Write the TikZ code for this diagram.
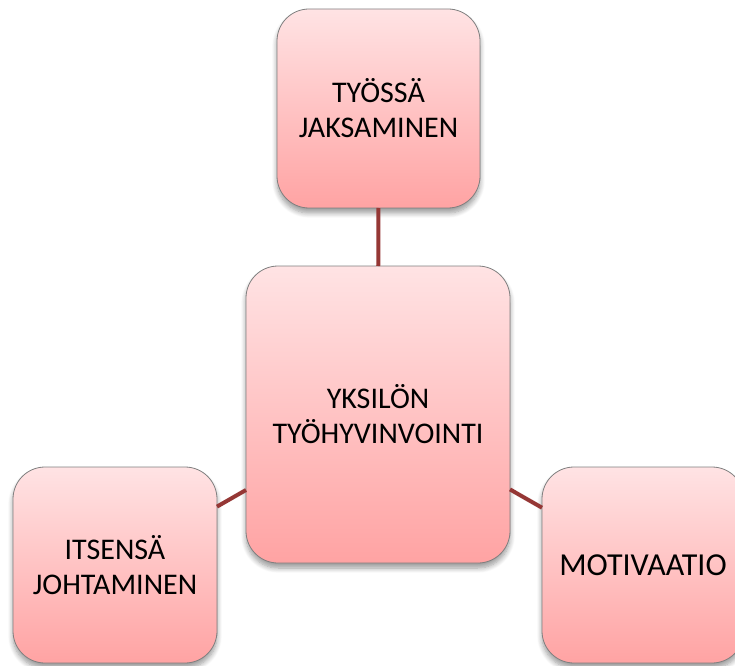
\documentclass[tikz,border=0pt]{standalone}
\usepackage{fontspec}
\setmainfont{Carlito}
\usetikzlibrary{shadows.blur}
\definecolor{linkred}{HTML}{953735}
\definecolor{boxtop}{HTML}{FFE3E4}
\definecolor{boxbot}{HTML}{FFA3A3}
\definecolor{boxedge}{HTML}{7F7F7F}
\tikzset{
  topic/.style={draw=boxedge, line width=0.8pt, rounded corners=32pt,
    top color=boxtop, bottom color=boxbot,
    blur shadow={shadow xshift=0pt, shadow yshift=-5pt, shadow blur radius=5pt,
      shadow blur steps=8, shadow opacity=40},
    inner sep=0pt, outer sep=0pt, align=center, text=black,
    font=\fontsize{30}{35}\selectfont},
  link/.style={draw=linkred, line width=4pt}
}
\begin{document}
\begin{tikzpicture}[x=1pt, y=1pt]
  \useasboundingbox (0,0) rectangle (735,665);
  \clip (0,0) rectangle (735,665);
  % the four topic boxes
  \node[topic, minimum width=203pt, minimum height=199pt] (work) at (378.5,556.5) {TYÖSSÄ\\JAKSAMINEN};
  \node[topic, minimum width=264pt, minimum height=297pt] (core) at (378,250.5) {YKSILÖN\\TYÖHYVINVOINTI};
  \node[topic, minimum width=204pt, minimum height=196pt] (lead) at (115,100) {ITSENSÄ\\JOHTAMINEN};
  \node[topic, minimum width=202pt, minimum height=196pt, font=\fontsize{32}{38}\selectfont] (motiv) at (643,100) {MOTIVAATIO};
  % links from the centre box to the others
  \draw[link] (work) -- (core);
  \draw[link] (lead) -- (core);
  \draw[link] (core) -- (motiv);
\end{tikzpicture}
\end{document}
